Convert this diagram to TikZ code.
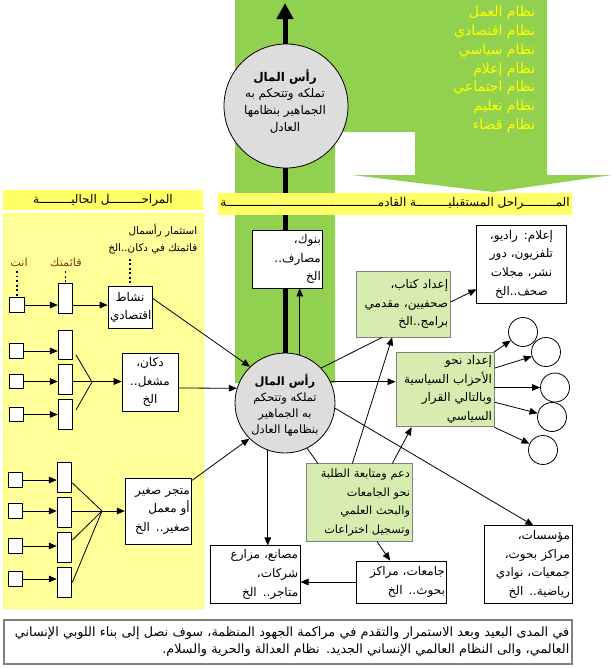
\documentclass[tikz,border=0pt]{standalone}
\usepackage{fontspec}
\newfontfamily\arabicfont[Script=Arabic]{DejaVu Sans}
\TeXXeTstate=1
\usetikzlibrary{arrows.meta}
\definecolor{band}{HTML}{92D050}
\definecolor{banner}{HTML}{FFFF66}
\definecolor{zone}{HTML}{FFFF99}
\definecolor{zoneedge}{HTML}{FFFF66}
\definecolor{leaf}{HTML}{D7EDB0}
\definecolor{discgray}{HTML}{DDDDDD}
\definecolor{rim}{HTML}{808080}
\definecolor{listtxt}{HTML}{FFFF00}
\definecolor{lblred}{HTML}{8A3A10}
\newcommand{\rl}[1]{\mbox{\beginR #1\endR}}

\tikzset{
  txt/.style={font=\arabicfont\fontsize{9}{14}\selectfont},
  box/.style={txt, align=right, draw, fill=white, line width=0.6pt, inner sep=1.5pt},
  gbox/.style={box, fill=leaf, draw=rim},
  sq/.style={draw, fill=white, line width=0.6pt, minimum size=11pt, inner sep=0pt},
  bar/.style={draw, fill=white, line width=0.6pt, minimum width=11pt, minimum height=22pt, inner sep=0pt},
  disc/.style={circle, draw, fill=discgray, line width=0.6pt, inner sep=0pt},
  ring/.style={circle, draw, line width=0.6pt, minimum size=21.75pt, inner sep=0pt},
  arr/.style={-{Triangle[length=6pt,width=5pt]}, line width=0.6pt},
  link/.style={line width=0.6pt},
  dots/.style={dotted, line width=1.4pt},
}

\begin{document}
\begin{tikzpicture}[x=0.75pt, y=-0.75pt]
  \useasboundingbox (0,0) rectangle (612,669);

  % Green band with arrow down to the future stages
  \fill[band] (235,0) -- (547,0) -- (547,175) -- (612,175) -- (493,192)
    -- (352,175) -- (415,175) -- (415,132) -- (335,132) -- (335,383)
    -- (235,383) -- cycle;
  \foreach \t [count=\i] in {نظام العمل, نظام اقتصادي, نظام سياسي, نظام إعلام,
    نظام اجتماعي, نظام تعليم, نظام قضاء}
    \node[txt, text=listtxt, anchor=east, font=\arabicfont\fontsize{10.5}{12}\selectfont]
      (sys\i) at (540,{-5.8+18.8*\i}) {\rl{\t}};

  % Central capital and the thick arrow up
  \node[disc, minimum size=75pt] (circ) at (285,403) {};
  \coordinate (top) at (285,3);
  \draw[line width=3.75pt, -{Triangle[length=12pt,width=12pt]}] (circ.north) -- (top);

  % Stage banners and the present-stage zone
  \node[fill=banner, minimum width=150pt, minimum height=15.5pt, inner sep=0pt,
    font=\arabicfont\fontsize{9}{10}\selectfont] (now) at (103,200)
    {\rl{المراحـــــــــل الحاليـــــــــة}};
  \node[fill=banner, minimum width=265.5pt, minimum height=16.5pt, inner sep=0pt,
    font=\arabicfont\fontsize{9}{10}\selectfont] (later) at (395,203.5)
    {\rl{المـــــــــراحل المستقبليـــــــــة القادمـــــــــــــــــــــــــــــــــــــــــــة}};
  \filldraw[fill=zone, draw=zoneedge] (3,213) rectangle (203,608);

  % Upper capital
  \node[disc, minimum size=93pt] (ucirc) at (286,106) {};
  \node[txt, align=center, font=\arabicfont\fontsize{9}{12.5}\selectfont] (ucirctxt) at (285,101)
    {{\bfseries\fontsize{9}{13.5}\selectfont\rl{رأس المال}}\\\rl{تملكه وتتحكم به}\\
     \rl{الجماهير بنظامها}\\\rl{العادل}};
  \node[txt, align=center, font=\arabicfont\fontsize{8.6}{12}\selectfont] (circtxt) at (285,405)
    {{\bfseries\fontsize{8.6}{13}\selectfont\rl{رأس المال}}\\\rl{تملكه وتتحكم}\\
     \rl{به الجماهير}\\\rl{بنظامها العادل}};

  % Present stages (left)
  \node[txt, align=right, anchor=north east, font=\arabicfont\fontsize{7.8}{13}\selectfont]
    (invest) at (202,219) {\rl{استثمار رأسمال}\\\rl{قائمتك في دكان..الخ}};
  \node[txt, text=lblred, font=\arabicfont\fontsize{8.5}{10}\selectfont] (you) at (19,262) {\rl{انت}};
  \node[txt, text=lblred, font=\arabicfont\fontsize{8.5}{10}\selectfont] (yours) at (66,262) {\rl{قائمتك}};

  \node[sq] (s1) at (17,305) {};
  \node[bar] (b1) at (65.5,298.5) {};
  \node[box, align=center, minimum width=33pt, minimum height=32pt, text width=30pt] (activity)
    at (130,307.5) {\rl{نشاط}\\\rl{اقتصادي}};
  \draw[dots] (s1.north |- you.south) -- (s1.north);
  \draw[dots] (b1.north |- yours.south) -- (b1.north);
  \draw[dots] (activity.north |- invest.south) -- (activity.north);
  \draw[arr] (s1) -- (s1 -| b1.west);
  \draw[arr] (s1 -| b1.east) -- (s1 -| activity.west);

  \foreach \n/\y/\by in {21/351/345, 22/381.5/379.5, 23/414.5/414.5} {
    \node[sq] (s\n) at (16.5,\y) {};
    \node[bar] (b\n) at (65.5,\by) {};
    \draw[arr] (s\n) -- (s\n -| b\n.west);
  }
  \node[box, align=center, minimum width=42pt, minimum height=43.5pt, text width=39pt] (shop)
    at (150,382) {\rl{دكان،}\\\rl{مشغل..}\\\rl{الخ}};
  \coordinate (m2) at (92,382);
  \draw[link] ([shift={(2pt,4pt)}]b21.south east) -- (m2);
  \draw[link] ([shift={(2pt,-8pt)}]b23.north east) -- (m2);
  \draw[arr] (s22 -| b22.east) -- (s22 -| shop.west);

  \foreach \n/\y/\by in {31/480/477.5, 32/511/512.5, 33/546/547.5, 34/579/582.5} {
    \node[sq] (s\n) at (15.5,\y) {};
    \node[bar] (b\n) at (64.5,\by) {};
    \draw[arr] (s\n) -- (s\n -| b\n.west);
  }
  \node[box, minimum width=50pt, minimum height=49.5pt, text width=47pt] (store)
    at (158.5,511) {\rl{متجر صغير}\\\rl{أو معمل}\\\rl{صغير.. الخ}};
  \coordinate (m3) at (102,511);
  \draw[link] ([yshift=-4pt]b31.east) -- (m3);
  \draw[link] ([yshift=5.5pt]b33.east) -- (m3);
  \draw[link] (b34.east) -- (m3);
  \draw[arr] (s32 -| b32.east) -- (s32 -| store.west);

  \draw[arr] ([yshift=7pt]activity.east) -- (circ.134);
  \draw[arr] ([yshift=-4.5pt]shop.east) -- (circ.163);
  \draw[arr] ([yshift=-2pt]store.north east) -- (circ.225);

  % Future stages (right)
  \node[box, minimum width=53pt, minimum height=43.5pt, text width=50pt] (banks)
    at (287.5,259) {\rl{بنوك،}\\\rl{مصارف..}\\\rl{الخ}};
  \node[box, align=center, minimum width=67pt, minimum height=58.5pt, text width=64pt] (media)
    at (521.5,264) {\rl{إعلام: راديو،}\\\rl{تلفزيون، دور}\\\rl{نشر، مجلات}\\\rl{صحف..الخ}};
  \node[gbox, minimum width=70pt, minimum height=49.5pt, text width=67pt] (prep)
    at (403.5,304) {\rl{إعداد كتاب،}\\\rl{صحفيين، مقدمي}\\\rl{برامج..الخ}};
  \node[gbox, minimum width=73.5pt, minimum height=56pt, text width=70.5pt] (party)
    at (445,389.5) {\rl{إعداد نحو}\\\rl{الأحزاب السياسية}\\\rl{وبالتالي القرار}\\\rl{السياسي}};
  \node[gbox, minimum width=79.5pt, minimum height=58pt, text width=76.5pt,
    font=\arabicfont\fontsize{8.5}{14}\selectfont] (support)
    at (359,502.5) {\rl{دعم ومتابعة الطلبة}\\\rl{نحو الجامعات}\\\rl{والبحث العلمي}\\\rl{وتسجيل اختراعات}};
  \node[box, minimum width=68pt, minimum height=31.5pt, text width=65pt] (univ)
    at (401.5,582) {\rl{جامعات، مراكز}\\\rl{بحوث.. الخ}};
  \node[box, minimum width=67pt, minimum height=43pt, text width=64pt] (firms)
    at (255.5,574.5) {\rl{مصانع، مزارع}\\\rl{شركات،}\\\rl{متاجر.. الخ}};
  \node[box, minimum width=66pt, minimum height=58pt, text width=63pt] (inst)
    at (528,564.5) {\rl{مؤسسات،}\\\rl{مراكز بحوث،}\\\rl{جمعيات، نوادي}\\\rl{رياضية.. الخ}};

  \foreach \i/\x/\y in {1/523/332, 2/546/352, 3/555/387.5, 4/552/417, 5/543/450}
    \node[ring] (c\i) at (\x,\y) {};

  \draw[arr] (circ.73) -- (circ.73 |- banks.south);
  \draw[link] (circ.44) -- ([xshift=-16pt]prep.south);
  \draw[arr] (circ.25) -- (circ.25 -| party.west);
  \draw[arr] (circ.-6) -- ([xshift=4pt]inst.north);
  \draw[link] (circ.-64) -- ([xshift=-30.75pt]support.north);
  \draw[arr] (circ.250) -- (circ.250 |- firms.north);
  \draw[arr] ([xshift=-5pt]support.north) -- ([xshift=-8.5pt]prep.south);
  \draw[arr] ([xshift=25pt]support.north) -- ([xshift=-25pt]party.south);
  \draw[arr] ([xshift=13.5pt]support.south) -- ([xshift=-8.5pt]univ.north);
  \draw[arr] (univ.west) -- (univ.west -| firms.east);
  \draw[arr] ([yshift=1.5pt]prep.east) -- ([yshift=-19pt]media.west);

  \draw[arr] (party.north east) -- (c1);
  \draw[arr] ([yshift=16pt]party.east) -- (c2);
  \draw[arr] ([yshift=1.5pt]party.east) -- (c3);
  \draw[arr] ([yshift=-9.5pt]party.east) -- (c4);
  \draw[arr] (party.south east) -- (c5);

  % Closing note
  \node[txt, align=right, draw=rim, line width=0.8pt, inner sep=2pt, minimum width=426pt,
    minimum height=33pt, text width=422pt, font=\arabicfont\fontsize{9.6}{12.5}\selectfont]
    (note) at (288,642)
    {\rl{في المدى البعيد وبعد الاستمرار والتقدم في مراكمة الجهود المنظمة، سوف نصل إلى بناء اللوبي الإنساني}\\
     \rl{العالمي، والى النظام العالمي الإنساني الجديد. نظام العدالة والحرية والسلام.}};
\end{tikzpicture}
\end{document}
